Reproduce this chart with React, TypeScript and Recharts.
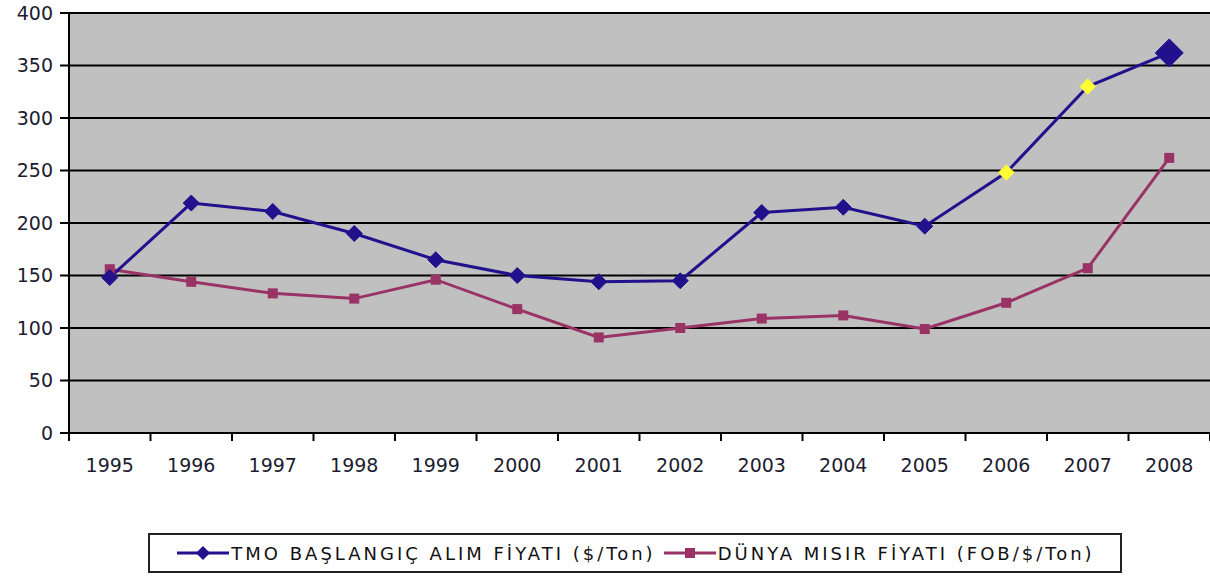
import { LineChart, Line, XAxis, YAxis, CartesianGrid } from "recharts";

const years = ["1995", "1996", "1997", "1998", "1999", "2000", "2001", "2002", "2003", "2004", "2005", "2006", "2007", "2008"];
const tmoPrice = [148, 219, 211, 190, 165, 150, 144, 145, 210, 215, 197, 248, 330, 362];
const worldPrice = [156, 144, 133, 128, 146, 118, 91, 100, 109, 112, 99, 124, 157, 262];
const yTicks = [0, 50, 100, 150, 200, 250, 300, 350, 400];
const yellowYears = ["2006", "2007"];
const bigYears = ["2008"];

const tmoName = "TMO BAŞLANGIÇ ALIM FİYATI ($/Ton)";
const worldName = "DÜNYA MISIR FİYATI (FOB/$/Ton)";

const data = years.map((y, i) => ({ year: y, tmo: tmoPrice[i], world: worldPrice[i] }));

const W = 1210;
const H = 480;
const LEFT = 69;
const STEP = (W - LEFT) / years.length;
const NAVY = "#22108c";
const PINK = "#993366";
const FONT = "'DejaVu Sans', sans-serif";

const Diamond = (props: any) => {
  const { cx, cy, payload } = props;
  if (cx == null || cy == null) return null;
  let r = 8;
  let fill = NAVY;
  let stroke = NAVY;
  if (yellowYears.includes(payload.year)) {
    fill = "#ffff33";
    stroke = "#e8e860";
  }
  if (bigYears.includes(payload.year)) r = 14;
  return (
    <polygon
      points={`${cx},${cy - r} ${cx + r},${cy} ${cx},${cy + r} ${cx - r},${cy}`}
      fill={fill}
      stroke={stroke}
      strokeWidth={1}
    />
  );
};

const Square = (props: any) => {
  const { cx, cy } = props;
  if (cx == null || cy == null) return null;
  return <rect x={cx - 5} y={cy - 5} width={10} height={10} fill={PINK} />;
};

const XTick = (props: any) => {
  const { x, y, payload, index } = props;
  return (
    <g>
      <line x1={x - STEP / 2} y1={y} x2={x - STEP / 2} y2={y + 8} stroke="#000" strokeWidth={2} />
      {index === years.length - 1 && (
        <line x1={x + STEP / 2} y1={y} x2={x + STEP / 2} y2={y + 8} stroke="#000" strokeWidth={2} />
      )}
      <text x={x} y={y + 39} textAnchor="middle" fontSize={19} fill="#1c1c30" fontFamily={FONT}>
        {payload.value}
      </text>
    </g>
  );
};

export default function App() {
  return (
    <div style={{ position: "absolute", left: 0, top: 0, width: W, height: 576, background: "#fff" }}>
      <LineChart width={W} height={H} data={data} margin={{ top: 13, right: 0, left: 0, bottom: 0 }}>
        <CartesianGrid vertical={false} stroke="#000" strokeWidth={2} fill="#c0c0c0" />
        <XAxis
          dataKey="year"
          height={47}
          padding={{ left: STEP / 2, right: STEP / 2 }}
          tickLine={false}
          tickSize={0}
          tickMargin={0}
          tick={<XTick />}
          interval={0}
          axisLine={{ stroke: "#000", strokeWidth: 2 }}
        />
        <YAxis
          width={LEFT}
          domain={[0, 400]}
          ticks={yTicks}
          interval={0}
          tickSize={9}
          tickMargin={7}
          tick={{ fontSize: 19, fill: "#1c1c30", fontFamily: FONT }}
          tickLine={{ stroke: "#000", strokeWidth: 2 }}
          axisLine={{ stroke: "#000", strokeWidth: 2 }}
        />
        <Line
          dataKey="world"
          name={worldName}
          stroke={PINK}
          strokeWidth={3}
          dot={<Square />}
          isAnimationActive={false}
        />
        <Line
          dataKey="tmo"
          name={tmoName}
          stroke={NAVY}
          strokeWidth={3}
          dot={<Diamond />}
          isAnimationActive={false}
        />
      </LineChart>
      <div
        style={{
          position: "absolute",
          left: 148,
          top: 533,
          width: 970,
          height: 36,
          border: "2px solid #222",
          display: "flex",
          alignItems: "center",
          justifyContent: "center",
          fontFamily: FONT,
          fontSize: 18,
          letterSpacing: 3,
          color: "#111",
          whiteSpace: "nowrap",
        }}
      >
        <svg width={56} height={20}>
          <line x1={2} y1={10} x2={54} y2={10} stroke={NAVY} strokeWidth={3} />
          <polygon points="28,3 35,10 28,17 21,10" fill={NAVY} />
        </svg>
        <span style={{ marginRight: 6 }}>{tmoName}</span>
        <svg width={56} height={20}>
          <line x1={2} y1={10} x2={54} y2={10} stroke={PINK} strokeWidth={3} />
          <rect x={23} y={5} width={10} height={10} fill={PINK} />
        </svg>
        <span>{worldName}</span>
      </div>
    </div>
  );
}
